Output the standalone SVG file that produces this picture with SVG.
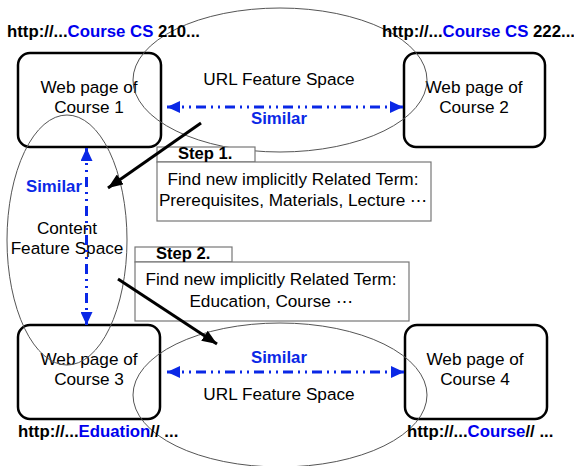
<svg xmlns="http://www.w3.org/2000/svg" width="574" height="466" viewBox="0 0 574 466">
<defs>
<style>
text{font-family:"Liberation Sans",Arial,sans-serif;font-size:17.2px;fill:#000}
.b{font-weight:bold;font-size:16.6px}
.url{font-weight:bold;font-size:16.8px}
.blue{fill:#0000ee}
.sim{font-weight:bold;fill:#0a28e6;font-size:16.8px}
.box{fill:#fff;stroke:#000;stroke-width:2.5}
.ell{fill:none;stroke:#555;stroke-width:1}
.step{fill:#fff;stroke:#777;stroke-width:1.2}
.dd{stroke:#0a28e6;stroke-width:3;fill:none;stroke-dasharray:10 5 2 5 2 5}
.blk{stroke:#000;stroke-width:3;fill:none}
</style>
<marker id="ba" markerUnits="userSpaceOnUse" markerWidth="14" markerHeight="12" refX="13" refY="6" orient="auto-start-reverse">
<path d="M0,0 L13,6 L0,12 Z" fill="#0a28e6"/>
</marker>
<marker id="ka" markerUnits="userSpaceOnUse" markerWidth="16" markerHeight="12" refX="15" refY="6" orient="auto">
<path d="M0,0 L15,6 L0,12 Z" fill="#000"/>
</marker>
</defs>
<rect width="574" height="466" fill="#fff"/>

<g id="node-course1"><rect class="box" x="18" y="53" width="143" height="94" rx="12"/>
<text x="89" y="93" text-anchor="middle">Web page of</text><text x="89" y="113" text-anchor="middle">Course 1</text></g>
<g id="node-course2"><rect class="box" x="404" y="53" width="141" height="94" rx="12"/>
<text x="474" y="93" text-anchor="middle">Web page of</text><text x="474" y="113" text-anchor="middle">Course 2</text></g>
<g id="node-course3"><rect class="box" x="18" y="325" width="142" height="94" rx="12"/>
<text x="89" y="365" text-anchor="middle">Web page of</text><text x="89" y="385" text-anchor="middle">Course 3</text></g>
<g id="node-course4"><rect class="box" x="405" y="325" width="142" height="94" rx="12"/>
<text x="475" y="365" text-anchor="middle">Web page of</text><text x="475" y="385" text-anchor="middle">Course 4</text></g>

<g id="url-space-top"><ellipse class="ell" cx="280" cy="80" rx="147" ry="72"/>
<text x="279" y="85" text-anchor="middle">URL Feature Space</text></g>
<g id="url-space-bottom"><ellipse class="ell" cx="280" cy="395" rx="147" ry="72"/>
<text x="279" y="400" text-anchor="middle">URL Feature Space</text></g>
<g id="content-space"><ellipse class="ell" cx="67" cy="240" rx="60" ry="125"/>
<text x="67" y="234" text-anchor="middle">Content</text><text x="67" y="254" text-anchor="middle">Feature Space</text></g>

<g id="step1"><rect class="step" x="157" y="147" width="98" height="15"/><rect class="step" x="157" y="162" width="274" height="59"/>
<text class="b" x="178" y="159">Step 1.</text>
<text x="293" y="185" text-anchor="middle">Find new implicitly Related Term:</text>
<text x="293" y="206" text-anchor="middle">Prerequisites, Materials, Lecture ⋯</text></g>
<g id="step2"><rect class="step" x="135" y="247" width="97" height="15"/><rect class="step" x="135" y="262" width="274" height="59"/>
<text class="b" x="156" y="259">Step 2.</text>
<text x="271" y="285" text-anchor="middle">Find new implicitly Related Term:</text>
<text x="271" y="307" text-anchor="middle">Education, Course ⋯</text></g>

<g id="urls">
<text class="url" x="7" y="37">http://...<tspan class="blue">Course CS</tspan> 210...</text>
<text class="url" x="382" y="37">http://...<tspan class="blue">Course CS</tspan> 222...</text>
<text class="url" x="18" y="437">http://...<tspan class="blue">Eduation</tspan>// ...</text>
<text class="url" x="407" y="437">http://...<tspan class="blue">Course</tspan>// ...</text>
</g>

<g id="connectors">
<line class="dd" x1="167" y1="107" x2="403" y2="107" marker-start="url(#ba)" marker-end="url(#ba)"/>
<text class="sim" x="279" y="124" text-anchor="middle">Similar</text>
<line class="dd" x1="167" y1="372" x2="404" y2="372" marker-start="url(#ba)" marker-end="url(#ba)"/>
<text class="sim" x="279" y="363" text-anchor="middle">Similar</text>
<line class="dd" x1="86.5" y1="148" x2="86.5" y2="325" marker-start="url(#ba)" marker-end="url(#ba)"/>
<text class="sim" x="26" y="192">Similar</text>
<line class="blk" x1="201" y1="123" x2="108" y2="188" marker-end="url(#ka)"/>
<line class="blk" x1="118" y1="279" x2="217" y2="344" marker-end="url(#ka)"/>
</g>
</svg>
